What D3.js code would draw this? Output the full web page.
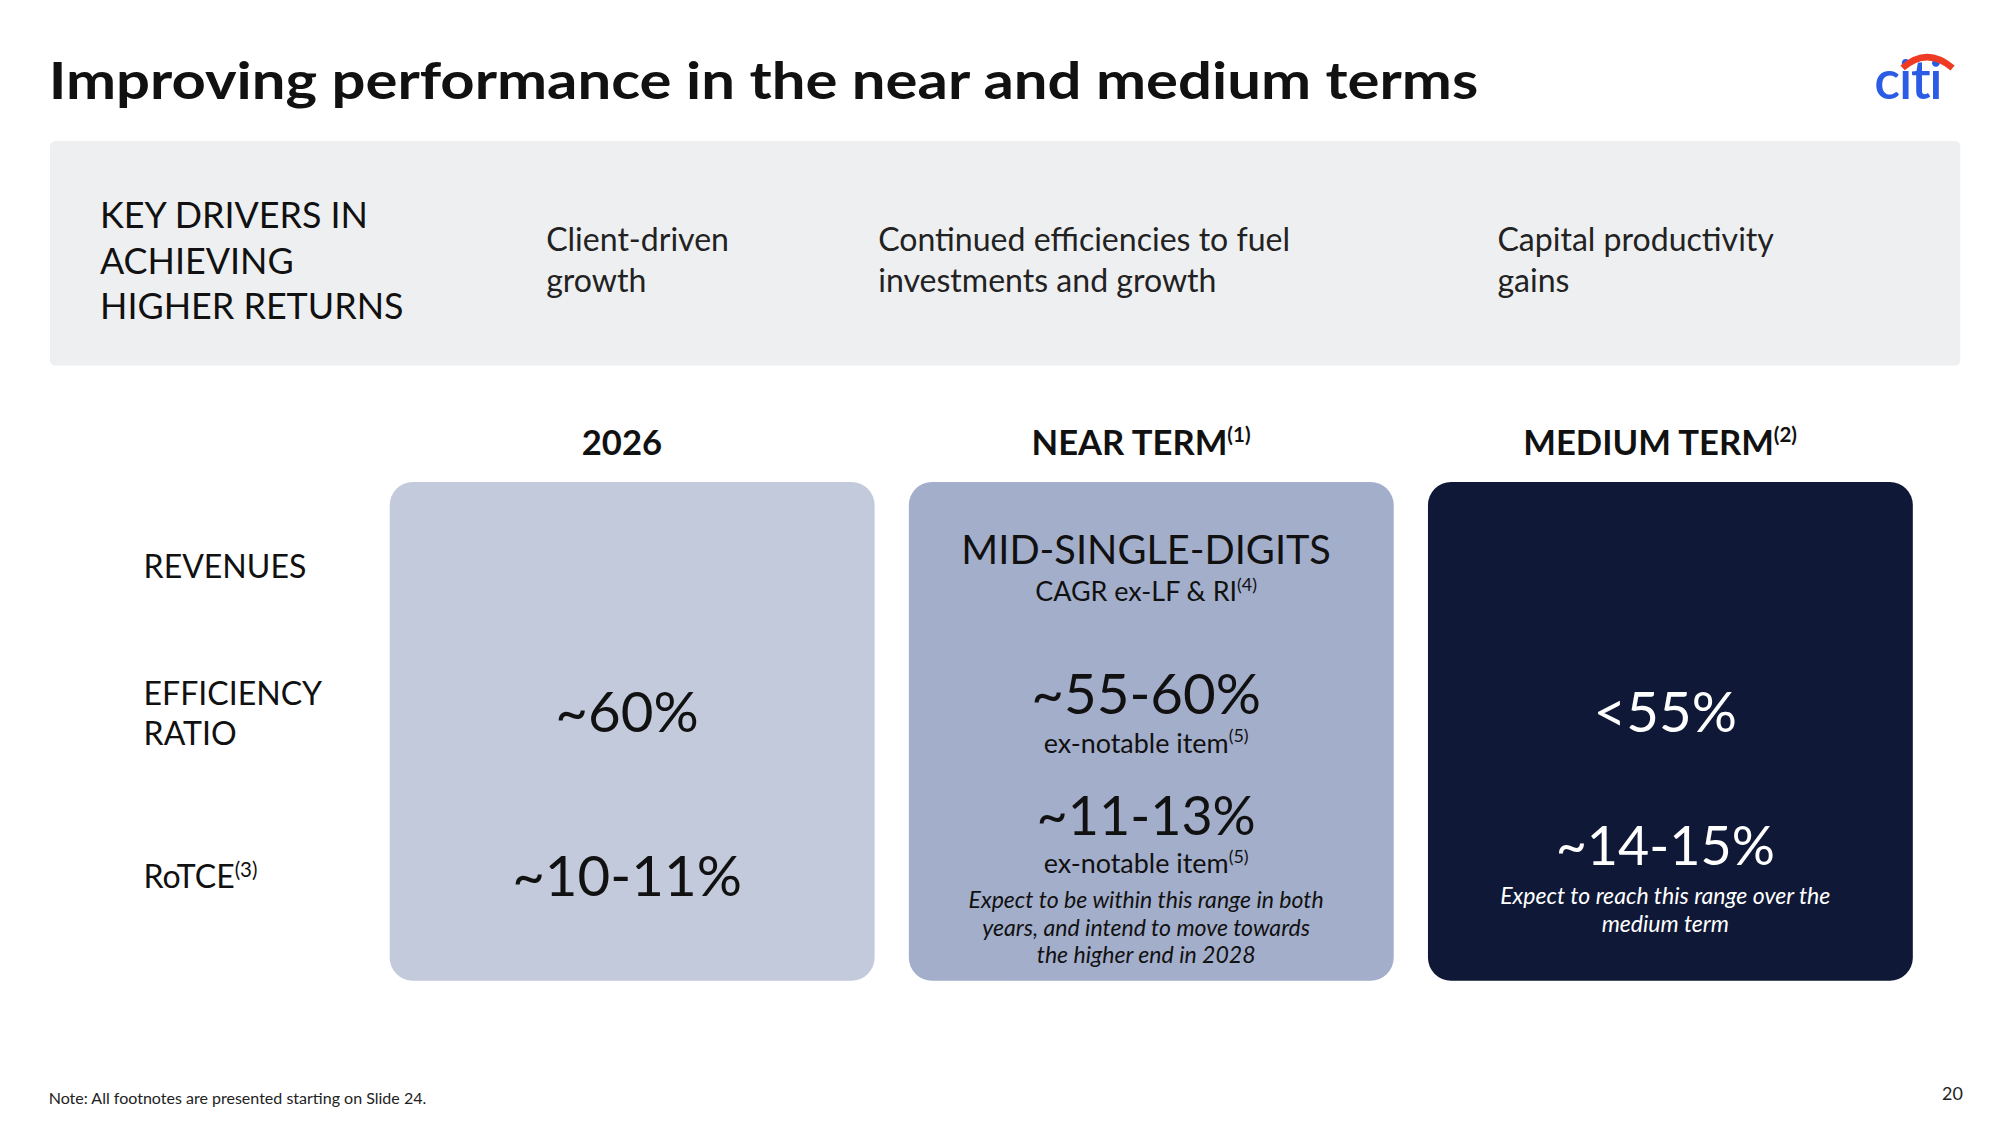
<!DOCTYPE html>
<html><head><meta charset="utf-8">
<script src="https://cdn.jsdelivr.net/npm/d3@7"></script>
<style>body{margin:0;background:#fff}text{font-family:Lato,"Noto Sans",sans-serif}</style>
</head><body><div id="chart"></div>
<script>
// Data
var title = "Improving performance in the near and medium terms";
var driverHead = ["KEY DRIVERS IN", "ACHIEVING", "HIGHER RETURNS"];
var drivers = [["Client-driven", "growth"], ["Continued efficiencies to fuel", "investments and growth"], ["Capital productivity", "gains"]];
var periods = ["2026", "NEAR TERM", "MEDIUM TERM"];
var periodNotes = ["", "(1)", "(2)"];
var rowLabels = [["REVENUES"], ["EFFICIENCY", "RATIO"], ["RoTCE"]];
var boxColors = ["#c3cadb", "#a3aecb", "#0f1836"];
var textColors = ["#111", "#111", "#fff"];

var W = 1560, H = 877.5;
var svg = d3.select("#chart").append("svg")
    .attr("width", 2000).attr("height", 1125)
    .attr("viewBox", "0 0 " + W + " " + H);

svg.append("text").attr("x", 38).attr("y", 77).attr("font-size", 40).attr("font-weight", 700)
    .attr("font-family", "'Open Sans', sans-serif").attr("textLength", 1115)
    .attr("lengthAdjust", "spacingAndGlyphs").attr("fill", "#111").text(title);

// citi logo
var logo = svg.append("g");
logo.append("text").attr("x", 1462).attr("y", 77).attr("font-size", 42).attr("font-weight", 600)
    .attr("fill", "#2b5ce6").attr("letter-spacing", -1).text("citi");
logo.append("path").attr("d", "M1484,53 Q1503,36 1523,53").attr("stroke", "#ef3b24")
    .attr("stroke-width", 5).attr("fill", "none");

// Drivers banner
svg.append("rect").attr("x", 39).attr("y", 110).attr("width", 1490).attr("height", 175)
    .attr("rx", 4).attr("fill", "#eeeff1");
driverHead.forEach(function(t, i) {
    svg.append("text").attr("x", 78).attr("y", 178 + i * 35.5).attr("font-size", 28).attr("fill", "#111").text(t);
});
var driverX = [426, 685, 1168];
drivers.forEach(function(d, i) {
    d.forEach(function(t, j) {
        svg.append("text").attr("x", driverX[i]).attr("y", 196 + j * 31.5).attr("font-size", 25).attr("fill", "#222").text(t);
    });
});

// Columns
var x = d3.scaleBand().domain(periods).range([304, 1492]).paddingInner(0.066);
var y = d3.scalePoint().domain([0, 1, 2]).range([442, 684]);

periods.forEach(function(p, i) {
    var t = svg.append("text").attr("x", x(p) + x.bandwidth() / 2 - 8).attr("y", 355)
        .attr("text-anchor", "middle").attr("font-size", 27).attr("font-weight", 700).attr("fill", "#111");
    t.append("tspan").text(p);
    if (periodNotes[i]) t.append("tspan").attr("font-size", 16).attr("dy", -10).text(periodNotes[i]);
    svg.append("rect").attr("x", x(p)).attr("y", 376).attr("width", x.bandwidth()).attr("height", 389)
        .attr("rx", 18).attr("fill", boxColors[i]);
});

rowLabels.forEach(function(r, i) {
    r.forEach(function(t, j) {
        var yy = r.length > 1 ? y(i) - 13 + j * 31 : y(i) + 9;
        var tx = svg.append("text").attr("x", 112).attr("y", yy).attr("font-size", 25).attr("fill", "#111");
        tx.append("tspan").text(t);
        if (i === 2) tx.append("tspan").attr("font-size", 16).attr("dy", -9).text("(3)");
    });
});

// Cell contents: [column, y, text, size, style, note]
var cells = [
    [0, 571, "~60%", 44, "normal", ""],
    [0, 699, "~10-11%", 44, "normal", ""],
    [1, 440, "MID-SINGLE-DIGITS", 31, "normal", ""],
    [1, 469, "CAGR ex-LF & RI", 21, "normal", "(4)"],
    [1, 557, "~55-60%", 44, "normal", ""],
    [1, 587, "ex-notable item", 21, "normal", "(5)"],
    [1, 651, "~11-13%", 42, "normal", ""],
    [1, 681, "ex-notable item", 21, "normal", "(5)"],
    [1, 708, "Expect to be within this range in both", 18, "italic", ""],
    [1, 730, "years, and intend to move towards", 18, "italic", ""],
    [1, 751, "the higher end in 2028", 18, "italic", ""],
    [2, 571, "<55%", 44, "normal", ""],
    [2, 675, "~14-15%", 42, "normal", ""],
    [2, 705, "Expect to reach this range over the", 18, "italic", ""],
    [2, 727, "medium term", 18, "italic", ""]
];
cells.forEach(function(c) {
    var t = svg.append("text").attr("x", x(periods[c[0]]) + x.bandwidth() / 2 - 4).attr("y", c[1])
        .attr("text-anchor", "middle").attr("font-size", c[3]).attr("font-style", c[4])
        .attr("fill", textColors[c[0]]);
    t.append("tspan").text(c[2]);
    if (c[5]) t.append("tspan").attr("font-size", 14).attr("dy", -8).text(c[5]);
});

svg.append("text").attr("x", 38).attr("y", 861).attr("font-size", 12.5).attr("fill", "#222")
    .text("Note:  All footnotes are presented starting on Slide 24.");
svg.append("text").attr("x", 1531).attr("y", 858).attr("font-size", 14).attr("text-anchor", "end")
    .attr("fill", "#222").text("20");
</script></body></html>
